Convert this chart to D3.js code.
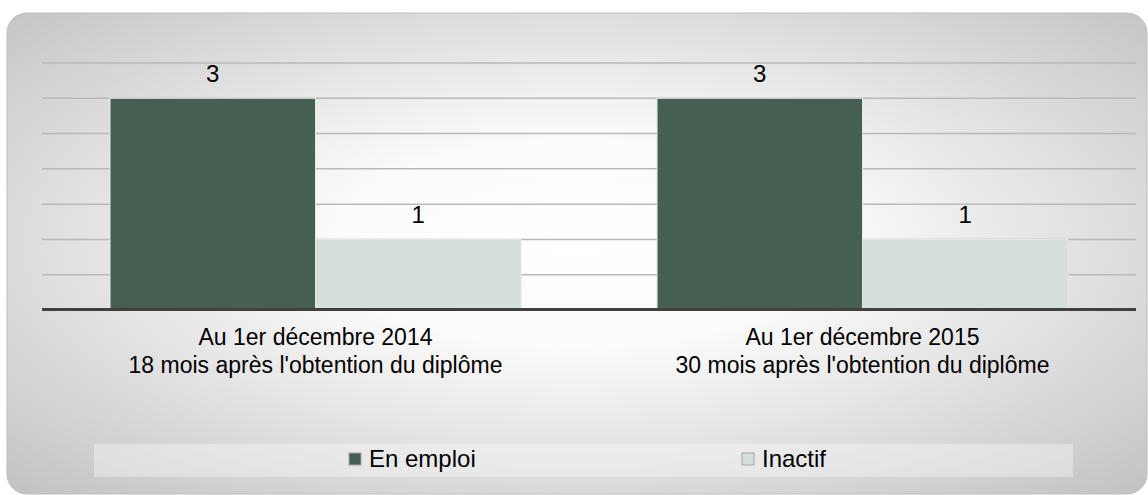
<!DOCTYPE html>
<html>
<head>
<meta charset="utf-8">
<script src="https://cdn.jsdelivr.net/npm/d3@7"></script>
<style>
  body { margin: 0; background: #fff; }
  svg { display: block; font-family: "Liberation Sans", Arial, sans-serif; }
</style>
</head>
<body>
<div id="chart"></div>
<script>
// données
const categories = [
  "Au 1er décembre 2014|18 mois après l'obtention du diplôme",
  "Au 1er décembre 2015|30 mois après l'obtention du diplôme"
];
const series = ["En emploi", "Inactif"];
const enEmploi = [3, 3];
const inactif = [1, 1];
const gridTicks = [0.5, 1, 1.5, 2, 2.5, 3, 3.5];
const yMax = 3.5;

const couleurs = { "En emploi": "#456052", "Inactif": "#d6e0db" };

const width = 1148, height = 495;
const margin = { top: 63, right: 12, bottom: 185, left: 42 };

const svg = d3.select("#chart").append("svg")
  .attr("width", width).attr("height", height);

// fond dégradé
const defs = svg.append("defs");
const grad = defs.append("radialGradient")
  .attr("id", "fond").attr("cx", "50%").attr("cy", "48%").attr("r", "72%");
grad.append("stop").attr("offset", "0%").attr("stop-color", "#ffffff");
grad.append("stop").attr("offset", "30%").attr("stop-color", "#fbfbfb");
grad.append("stop").attr("offset", "100%").attr("stop-color", "#c2c2c2");

svg.append("rect")
  .attr("x", 7).attr("y", 13)
  .attr("width", 1140).attr("height", 481)
  .attr("rx", 20).attr("ry", 20)
  .attr("fill", "url(#fond)")
  .attr("stroke", "#bdbdbd").attr("stroke-width", 1);

const x0 = d3.scaleBand()
  .domain(categories)
  .range([margin.left, width - margin.right])
  .padding(0);

const x1 = d3.scaleBand()
  .domain(series)
  .range([0, x0.bandwidth()])
  .paddingInner(0)
  .paddingOuter(0.331);

const y = d3.scaleLinear()
  .domain([0, yMax])
  .range([height - margin.bottom, margin.top]);

// grille
svg.append("g")
  .selectAll("line")
  .data(gridTicks)
  .join("line")
  .attr("x1", margin.left).attr("x2", width - margin.right)
  .attr("y1", d => y(d)).attr("y2", d => y(d))
  .attr("stroke", "#b9b9b9").attr("stroke-width", 1.5);

const data = categories.map((c, i) => ({
  cat: c,
  valeurs: [
    { key: "En emploi", value: enEmploi[i] },
    { key: "Inactif", value: inactif[i] }
  ]
}));

const groupes = svg.append("g")
  .selectAll("g")
  .data(data)
  .join("g")
  .attr("transform", d => `translate(${x0(d.cat)},0)`);

groupes.selectAll("rect")
  .data(d => d.valeurs)
  .join("rect")
  .attr("x", d => x1(d.key))
  .attr("y", d => y(d.value))
  .attr("width", x1.bandwidth())
  .attr("height", d => y(0) - y(d.value))
  .attr("fill", d => couleurs[d.key])
  .attr("stroke", "#e4e9e6").attr("stroke-width", 1);

groupes.selectAll("text.valeur")
  .data(d => d.valeurs)
  .join("text")
  .attr("class", "valeur")
  .attr("x", d => x1(d.key) + x1.bandwidth() / 2)
  .attr("y", d => y(d.value) - 16)
  .attr("text-anchor", "middle")
  .style("font-size", "24px")
  .attr("fill", "#000")
  .text(d => d.value);

// axe horizontal
svg.append("line")
  .attr("x1", margin.left).attr("x2", width - margin.right)
  .attr("y1", y(0) - 0.5).attr("y2", y(0) - 0.5)
  .attr("stroke", "#404040").attr("stroke-width", 3);

// étiquettes des catégories
const etiquettes = svg.append("g")
  .selectAll("text")
  .data(categories)
  .join("text")
  .attr("x", d => x0(d) + x0.bandwidth() / 2)
  .attr("y", 345)
  .attr("text-anchor", "middle")
  .style("font-size", "23px")
  .attr("fill", "#000");

etiquettes.selectAll("tspan")
  .data(d => d.split("|"))
  .join("tspan")
  .attr("x", function () { return d3.select(this.parentNode).attr("x"); })
  .attr("dy", (d, i) => i === 0 ? 0 : 28)
  .text(d => d);

// légende
svg.append("rect")
  .attr("x", 94).attr("y", 444)
  .attr("width", 979).attr("height", 33)
  .attr("fill", "#ffffff").attr("fill-opacity", 0.35);

const legX = d3.scalePoint().domain(series).range([349, 742]);

const leg = svg.append("g")
  .selectAll("g")
  .data(series)
  .join("g")
  .attr("transform", d => `translate(${legX(d)},453)`);

leg.append("rect")
  .attr("width", 12).attr("height", 12)
  .attr("fill", d => couleurs[d])
  .attr("stroke", "#a6a6a6").attr("stroke-width", 1);

leg.append("text")
  .attr("x", 20).attr("y", 14)
  .style("font-size", "24px")
  .attr("fill", "#000")
  .text(d => d);
</script>
</body>
</html>
